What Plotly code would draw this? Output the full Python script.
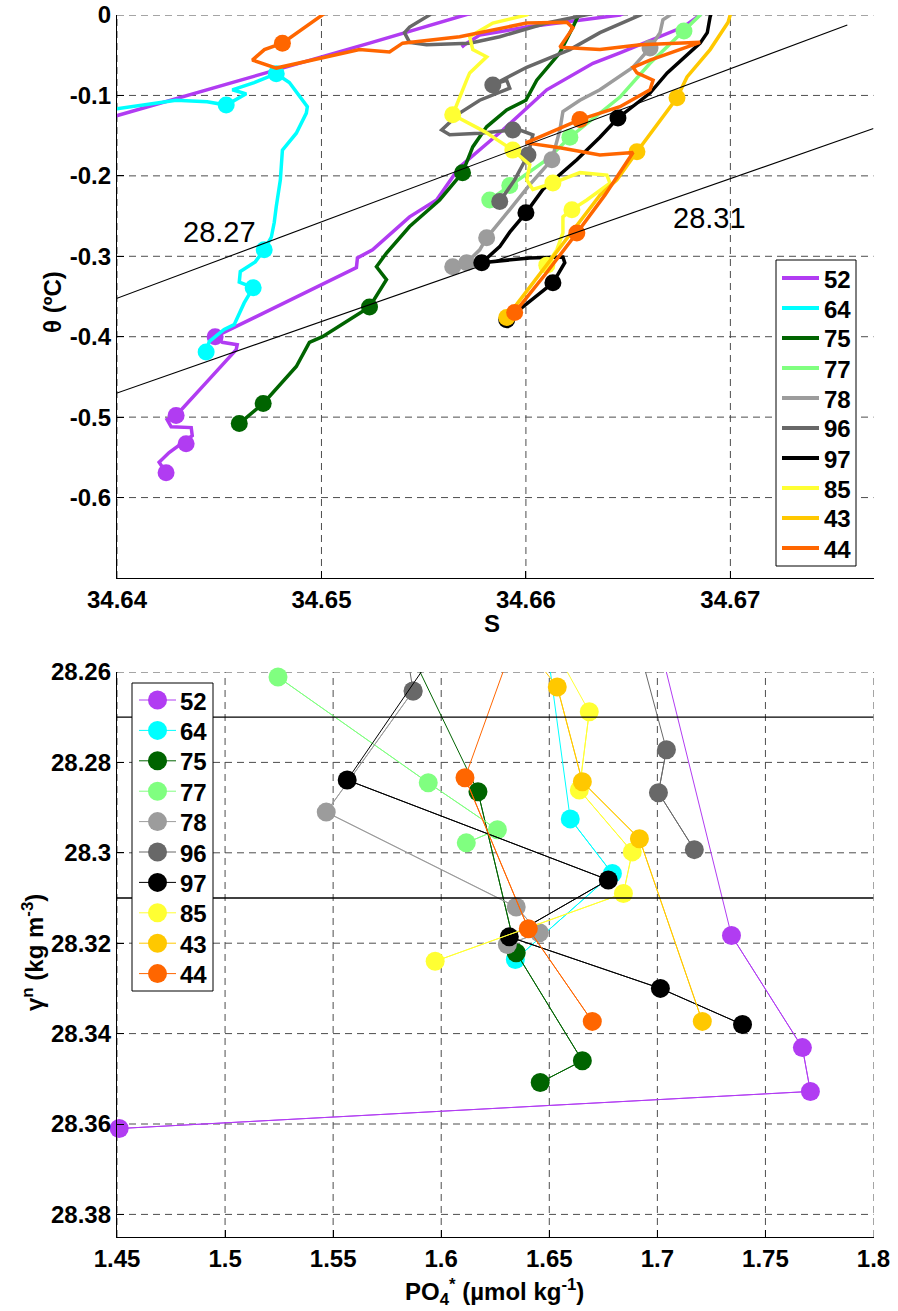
import plotly.graph_objects as go

FONT = "Liberation Sans, Arial, Helvetica, sans-serif"

stations = ["52", "64", "75", "77", "78", "96", "97", "85", "43", "44"]
colors = ["#b13cf2", "#00ffff", "#006400", "#80ff80", "#9c9c9c",
          "#686868", "#000000", "#ffff33", "#ffc800", "#ff6600"]

# ---------------- top panel : theta-S profiles (None = gap) ----------------
S_52 = [34.6424, 34.64206, 34.64255, 34.64338, 34.64368, 34.64363, 34.64265, 34.64245, 34.64289,
        34.64436, 34.64583, 34.64588, 34.64515, 34.6448, 34.64647, 34.64975, 34.65171, 34.65176,
        34.6525, 34.65431, 34.65563, 34.65676, 34.65887, 34.66102, 34.66328, 34.6646, 34.66769,
        34.66852, 34.6690, None, 34.6656, 34.6646, 34.66004, 34.65774, 34.657, 34.65686, None,
        34.65823, 34.65235, 34.6396]
T_52 = [-0.569, -0.556, -0.544, -0.529, -0.523, -0.513, -0.512, -0.503, -0.498,
        -0.457, -0.416, -0.410, -0.407, -0.400, -0.379, -0.338, -0.314, -0.302,
        -0.292, -0.251, -0.230, -0.189, -0.143, -0.093, -0.060, -0.047, -0.015,
        0.0, 0.012, None, 0.012, 0.0, -0.015, -0.025, -0.037, -0.040, None,
        0.009, -0.035, -0.128]
Sm_52 = [34.6424, 34.64338, 34.64289, 34.6448]
Tm_52 = [-0.569, -0.533, -0.498, -0.400]

S_64 = [34.64436, 34.64451, 34.64524, 34.64573, 34.64622, 34.64666, 34.64598, 34.64603, 34.64676,
        34.6472, 34.64755, 34.64769, 34.64779, 34.64799, 34.64809, 34.64877, 34.64926, 34.64931,
        34.64843, 34.64779, 34.64671, 34.64564, 34.64632, 34.64534, 34.64441, 34.64289, 34.63961]
T_64 = [-0.419, -0.406, -0.391, -0.385, -0.358, -0.339, -0.332, -0.319, -0.307,
        -0.292, -0.276, -0.258, -0.238, -0.205, -0.168, -0.147, -0.122, -0.114,
        -0.084, -0.073, -0.084, -0.093, -0.098, -0.112, -0.108, -0.106, -0.118]
Sm_64 = [34.64779, 34.64534, 34.6472, 34.64666, 34.64436]
Tm_64 = [-0.073, -0.112, -0.292, -0.339, -0.419]

S_75 = [34.64598, 34.64715, 34.64877, 34.64941, 34.65005, 34.65235, 34.65318, 34.65269, 34.65318,
        34.65431, 34.65578, 34.6569, 34.6574, 34.65808, 34.65906, 34.66, 34.66053, 34.66166,
        34.6623, 34.66264, 34.6628]
T_75 = [-0.508, -0.483, -0.437, -0.407, -0.400, -0.363, -0.329, -0.313, -0.296,
        -0.263, -0.230, -0.196, -0.164, -0.139, -0.118, -0.106, -0.081, -0.047,
        -0.015, 0.002, 0.012]
Sm_75 = [34.64598, 34.64715, 34.65235, 34.6569]
Tm_75 = [-0.508, -0.483, -0.363, -0.196]

S_77 = [34.65823, 34.65921, 34.66019, 34.66102, 34.66215, 34.66362, 34.6646, 34.66607, 34.66773,
        34.66852, 34.66876]
T_77 = [-0.230, -0.212, -0.195, -0.180, -0.152, -0.122, -0.102, -0.060, -0.020, 0.0, 0.009]
Sm_77 = [34.65823, 34.65921, 34.66215, 34.66773]
Tm_77 = [-0.230, -0.212, -0.152, -0.020]

S_78 = [34.65642, 34.6571, 34.65774, 34.65808, 34.65921, 34.66019, 34.66127, 34.66166, 34.66181,
        34.66264, 34.66362, 34.66524, 34.66607, 34.66656, 34.6667, 34.66705, 34.6672]
T_78 = [-0.313, -0.308, -0.292, -0.277, -0.242, -0.211, -0.180, -0.143, -0.120,
        -0.106, -0.093, -0.065, -0.041, -0.022, -0.006, 0.0, 0.009]
Sm_78 = [34.65642, 34.6571, 34.65808, 34.66127, 34.66607]
Tm_78 = [-0.313, -0.308, -0.277, -0.180, -0.041]

S_96 = [34.65872, 34.65945, 34.6601, 34.66034, 34.6597, 34.65936, 34.65774, 34.65627, 34.65588,
        34.65676, 34.65774, 34.65921, 34.65906, 34.65838, 34.66004, 34.66215, 34.66362, 34.6656,
        34.66607, None, 34.6646, 34.66102, 34.65872, 34.65725, 34.65514, 34.65431, 34.65406,
        34.65431, 34.65529, 34.65558]
T_96 = [-0.232, -0.205, -0.174, -0.149, -0.143, -0.143, -0.147, -0.149, -0.143,
        -0.122, -0.106, -0.091, -0.081, -0.087, -0.065, -0.043, -0.022, 0.0,
        0.009, None, 0.009, -0.010, -0.027, -0.035, -0.037, -0.034, -0.022,
        -0.015, 0.0, 0.009]
Sm_96 = [34.65838, 34.65936, 34.6601, 34.65872]
Tm_96 = [-0.087, -0.143, -0.174, -0.232]

S_97 = [34.65906, 34.66132, 34.6619, 34.66181, 34.66019, 34.65784, 34.65872, 34.65921, 34.66,
        34.66083, 34.66249, 34.66362, 34.6645, 34.66607, 34.66691, 34.66852, 34.66887, 34.66901,
        34.66916]
T_97 = [-0.379, -0.333, -0.308, -0.301, -0.302, -0.308, -0.288, -0.270, -0.246,
        -0.217, -0.180, -0.152, -0.128, -0.097, -0.072, -0.035, -0.022, -0.002, 0.009]
Sm_97 = [34.65906, 34.66132, 34.65784, 34.66, 34.6645]
Tm_97 = [-0.379, -0.333, -0.308, -0.246, -0.128]

S_85 = [34.66102, 34.66151, 34.66181, 34.66181, 34.66225, 34.66298, 34.66411, 34.66396, 34.66264,
        34.66132, 34.66034, 34.66004, 34.66019, 34.65936, 34.65798, 34.65642, 34.6571, 34.65725,
        34.65808, 34.6574, 34.65725, 34.65838, 34.66004, 34.66053]
T_85 = [-0.311, -0.292, -0.271, -0.251, -0.242, -0.230, -0.209, -0.199, -0.196,
        -0.209, -0.217, -0.205, -0.186, -0.168, -0.145, -0.124, -0.081, -0.072,
        -0.052, -0.043, -0.027, -0.010, 0.0, 0.009]
Sm_85 = [34.66102, 34.66225, 34.66132, 34.65936, 34.65642]
Tm_85 = [-0.311, -0.242, -0.209, -0.168, -0.124]

S_43 = [34.65906, 34.66068, 34.66225, 34.66362, 34.66445, 34.66543, 34.66739, 34.66788, 34.66901,
        34.66989, 34.67009]
T_43 = [-0.376, -0.322, -0.271, -0.224, -0.205, -0.170, -0.103, -0.077, -0.043, -0.009, 0.009]
Sm_43 = [34.65906, 34.66543, 34.66739]
Tm_43 = [-0.376, -0.170, -0.103]

S_44 = [34.65945, 34.66093, 34.66249, 34.66386, 34.66524, 34.66362, 34.66166, 34.66, 34.66264,
        34.6646, 34.66607, 34.66622, 34.66543, 34.66524, 34.66607, 34.66852, 34.6656, 34.66362,
        34.6623, 34.66166, 34.6623, 34.662, 34.66004, 34.65676, 34.65397, 34.65333, 34.65186,
        34.64779, 34.64662, 34.64721, 34.64809, 34.65005, 34.65054]
T_44 = [-0.370, -0.323, -0.271, -0.224, -0.171, -0.174, -0.165, -0.159, -0.130,
        -0.114, -0.093, -0.081, -0.072, -0.065, -0.056, -0.034, -0.037, -0.043,
        -0.041, -0.040, -0.016, -0.009, -0.010, -0.027, -0.035, -0.046, -0.043,
        -0.066, -0.056, -0.043, -0.035, 0.0, 0.009]
Sm_44 = [34.65945, 34.66249, 34.66264, 34.64809]
Tm_44 = [-0.370, -0.271, -0.130, -0.035]

top_lines = {"52": (S_52, T_52), "64": (S_64, T_64), "75": (S_75, T_75), "77": (S_77, T_77),
             "78": (S_78, T_78), "96": (S_96, T_96), "97": (S_97, T_97), "85": (S_85, T_85),
             "43": (S_43, T_43), "44": (S_44, T_44)}
top_marks = {"52": (Sm_52, Tm_52), "64": (Sm_64, Tm_64), "75": (Sm_75, Tm_75), "77": (Sm_77, Tm_77),
             "78": (Sm_78, Tm_78), "96": (Sm_96, Tm_96), "97": (Sm_97, Tm_97), "85": (Sm_85, Tm_85),
             "43": (Sm_43, Tm_43), "44": (Sm_44, Tm_44)}

# isopycnals (gamma^n = 28.27, 28.31) end points
iso_labels = ["28.27", "28.31"]
iso_S = [[34.64, 34.67572], [34.64, 34.677]]
iso_T = [[-0.3523, -0.0124], [-0.470, -0.1412]]
iso_label_S = [34.645, 34.669]
iso_label_T = [-0.2696, -0.252]

# ---------------- bottom panel : PO4* vs gamma^n ----------------
P_52 = [1.699, 1.7343, 1.7671, 1.7708, 1.451]
G_52 = [28.25, 28.3183, 28.3431, 28.3528, 28.361]
P_64 = [1.6477, 1.6597, 1.6792, 1.6343]
G_64 = [28.25, 28.2925, 28.3046, 28.3236]
P_75 = [1.5801, 1.617, 1.6347, 1.6653, 1.6458]
G_75 = [28.25, 28.2865, 28.3221, 28.346, 28.3508]
P_77 = [1.5245, 1.594, 1.626, 1.6116]
G_77 = [28.2611, 28.2845, 28.2949, 28.2978]
P_78 = [1.587, 1.5468, 1.6347, 1.6454, 1.6306]
G_78 = [28.2642, 28.291, 28.312, 28.3177, 28.3203]
P_96 = [1.587, 1.5822, 1.6889, 1.7042, 1.7005, 1.7171]
G_96 = [28.2642, 28.25, 28.25, 28.2772, 28.2867, 28.2993]
P_97 = [1.6051, 1.5565, 1.6773, 1.6315, 1.7014, 1.7394]
G_97 = [28.25, 28.2839, 28.306, 28.3186, 28.330, 28.338]
P_85 = [1.6468, 1.6685, 1.6639, 1.6884, 1.6843, 1.5972]
G_85 = [28.25, 28.2688, 28.2861, 28.2998, 28.309, 28.324]
P_43 = [1.6319, 1.6537, 1.6653, 1.6917, 1.7208]
G_43 = [28.25, 28.2633, 28.2843, 28.2969, 28.3373]
P_44 = [1.6361, 1.611, 1.6403, 1.6699]
G_44 = [28.25, 28.2834, 28.3168, 28.3373]

bottom = {"52": (P_52, G_52), "64": (P_64, G_64), "75": (P_75, G_75), "77": (P_77, G_77),
          "78": (P_78, G_78), "96": (P_96, G_96), "97": (P_97, G_97), "85": (P_85, G_85),
          "43": (P_43, G_43), "44": (P_44, G_44)}
ref_levels = [28.27, 28.31]

# axes
top_xticks = [34.64, 34.65, 34.66, 34.67]
top_yticks = [0, -0.1, -0.2, -0.3, -0.4, -0.5, -0.6]
top_yticktext = ["0", "-0.1", "-0.2", "-0.3", "-0.4", "-0.5", "-0.6"]
top_xrange = [34.64, 34.677]
top_yrange = [-0.7, 0]
bot_xticks = [1.45, 1.5, 1.55, 1.6, 1.65, 1.7, 1.75, 1.8]
bot_xticktext = ["1.45", "1.5", "1.55", "1.6", "1.65", "1.7", "1.75", "1.8"]
bot_yticks = [28.26, 28.28, 28.30, 28.32, 28.34, 28.36, 28.38]
bot_yticktext = ["28.26", "28.28", "28.3", "28.32", "28.34", "28.36", "28.38"]
bot_xrange = [1.45, 1.8]
bot_yrange = [28.385, 28.26]

W, H = 898, 1311
fig = go.Figure()

for st, col in zip(stations, colors):
    s, t = top_lines[st]
    fig.add_trace(go.Scatter(x=s, y=t, mode="lines", name=st, line=dict(color=col, width=3.5),
                             xaxis="x", yaxis="y", connectgaps=False, showlegend=False))
    sm, tm = top_marks[st]
    fig.add_trace(go.Scatter(x=sm, y=tm, mode="markers", showlegend=False,
                             marker=dict(color=col, size=17, line=dict(width=0)),
                             xaxis="x", yaxis="y", cliponaxis=False))

for s, t in zip(iso_S, iso_T):
    fig.add_trace(go.Scatter(x=s, y=t, mode="lines", showlegend=False,
                             line=dict(color="black", width=1.1), xaxis="x", yaxis="y"))

lo, hi = min(bot_yrange), max(bot_yrange)
for st, col in zip(stations, colors):
    p, g = bottom[st]
    fig.add_trace(go.Scatter(x=p, y=g, mode="lines", showlegend=False,
                             line=dict(color=col, width=1), xaxis="x2", yaxis="y2"))
    pin = [pp if lo <= gg <= hi else None for pp, gg in zip(p, g)]
    gin = [gg if lo <= gg <= hi else None for gg in g]
    fig.add_trace(go.Scatter(x=pin, y=gin, mode="lines+markers", name=st, connectgaps=False,
                             line=dict(color=col, width=1), showlegend=False,
                             marker=dict(color=col, size=19, line=dict(width=0)),
                             xaxis="x2", yaxis="y2", cliponaxis=False))

for lev in ref_levels:
    fig.add_trace(go.Scatter(x=bot_xrange, y=[lev, lev], mode="lines", showlegend=False,
                             line=dict(color="black", width=1.3), xaxis="x2", yaxis="y2"))

# grid lines (MATLAB style dashed)
shapes = []
grid_line = dict(color="#4d4d4d", width=1, dash="7px,5px")
for v in top_xticks:
    shapes.append(dict(type="line", xref="x", yref="y domain", x0=v, x1=v, y0=0, y1=1,
                       line=grid_line, layer="below"))
for v in top_yticks:
    shapes.append(dict(type="line", xref="x domain", yref="y", x0=0, x1=1, y0=v, y1=v,
                       line=grid_line, layer="below"))
for v in bot_xticks:
    shapes.append(dict(type="line", xref="x2", yref="y2 domain", x0=v, x1=v, y0=0, y1=1,
                       line=grid_line, layer="below"))
for v in bot_yticks:
    shapes.append(dict(type="line", xref="x2 domain", yref="y2", x0=0, x1=1, y0=v, y1=v,
                       line=grid_line, layer="below"))

# ---- hand-built legends (MATLAB look), positions in pixels ----
def px(x):
    return x / W


def py(y):
    return 1 - y / H


legend_font = dict(family=FONT, size=24, color="black", weight="bold")
annotations = []


def build_legend(box, y0, dy, x_line, x_text, line_w, marker_d):
    shapes.append(dict(type="rect", xref="paper", yref="paper", x0=px(box[0]), x1=px(box[1]),
                       y0=py(box[2]), y1=py(box[3]), fillcolor="white",
                       line=dict(color="black", width=1), layer="above"))
    for i, (st, col) in enumerate(zip(stations, colors)):
        yy = y0 + i * dy
        shapes.append(dict(type="line", xref="paper", yref="paper", x0=px(x_line[0]),
                           x1=px(x_line[1]), y0=py(yy), y1=py(yy),
                           line=dict(color=col, width=line_w), layer="above"))
        if marker_d:
            cx = (x_line[0] + x_line[1]) / 2
            r = marker_d / 2
            shapes.append(dict(type="circle", xref="paper", yref="paper", xsizemode="pixel",
                               ysizemode="pixel", xanchor=px(cx), yanchor=py(yy),
                               x0=-r, x1=r, y0=-r, y1=r, fillcolor=col,
                               line=dict(color=col, width=0), layer="above"))
        annotations.append(dict(text=st, x=px(x_text), y=py(yy + 1), xref="paper", yref="paper",
                                showarrow=False, xanchor="left", yanchor="middle",
                                font=legend_font))


build_legend(box=(776, 856, 260, 566), y0=278, dy=30.0, x_line=(782, 819), x_text=822,
             line_w=4, marker_d=0)
build_legend(box=(132, 213, 683, 991), y0=700, dy=30.4, x_line=(139, 176), x_text=178,
             line_w=1, marker_d=19)

tickfont = dict(family=FONT, size=24, color="black", weight="bold")
axcommon = dict(showline=True, linecolor="black", linewidth=1.3, ticks="inside", ticklen=7,
                tickwidth=1.2, tickcolor="black", showgrid=False, zeroline=False,
                tickfont=tickfont, mirror=False, automargin=False)

dom_x = [117 / W, 873.5 / W]
fig.update_layout(
    width=W, height=H, margin=dict(l=0, r=0, t=0, b=0, autoexpand=False),
    paper_bgcolor="white", plot_bgcolor="white", showlegend=False,
    xaxis=dict(domain=dom_x, range=top_xrange, tickvals=top_xticks,
               ticktext=[f"{v:g}" for v in top_xticks], anchor="y", **axcommon),
    yaxis=dict(domain=[1 - 578 / H, 1 - 15 / H], range=top_yrange, tickvals=top_yticks,
               ticktext=top_yticktext, anchor="x", **axcommon),
    xaxis2=dict(domain=dom_x, range=bot_xrange, tickvals=bot_xticks, ticktext=bot_xticktext,
                anchor="y2", **axcommon),
    yaxis2=dict(domain=[1 - 1237 / H, 1 - 672 / H], range=bot_yrange, tickvals=bot_yticks,
                ticktext=bot_yticktext, anchor="x2", **axcommon),
    shapes=shapes,
)

titlefont = dict(family=FONT, size=24, color="black", weight="bold")
ann = [
    dict(text="θ (ºC)", x=52 / W, y=1 - 302 / H, textangle=-90),
    dict(text="S", x=492 / W, y=1 - 623 / H),
    dict(text="γ<sup>n</sup> (kg m<sup>-3</sup>)", x=33 / W, y=1 - 953 / H, textangle=-90),
    dict(text="PO<sub>4</sub><sup>*</sup> (µmol kg<sup>-1</sup>)", x=494 / W, y=1 - 1292 / H),
]
for a in ann:
    a.update(xref="paper", yref="paper", showarrow=False, xanchor="center", yanchor="middle",
             font=titlefont)
for lab, xs, ys in zip(iso_labels, iso_label_S, iso_label_T):
    ann.append(dict(text=lab, x=xs, y=ys, xref="x", yref="y", showarrow=False,
                    xanchor="center", yanchor="middle",
                    font=dict(family=FONT, size=29, color="black")))
fig.update_layout(annotations=ann + annotations)

fig.write_html("out.html")
